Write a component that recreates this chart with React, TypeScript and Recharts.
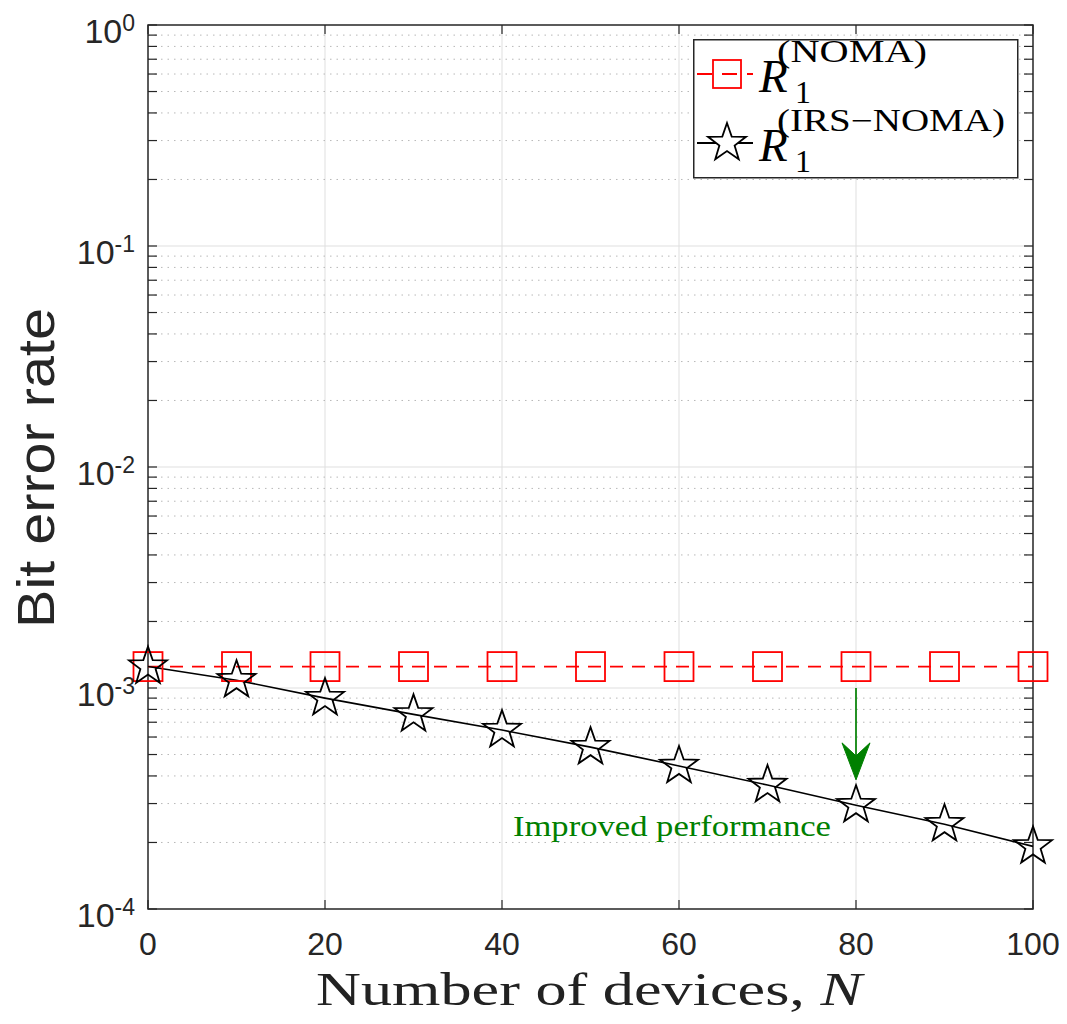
import React from "react";
import {
  LineChart,
  Line,
  XAxis,
  YAxis,
  CartesianGrid,
  ReferenceArea,
  ReferenceLine,
  ReferenceDot,
  Legend,
} from "recharts";

// ─── Data ─────────────────────────────────────────────────────
const N_VALUES = [0, 10, 20, 30, 40, 50, 60, 70, 80, 90, 100];
const NOMA_BER = [
  1.25e-3, 1.25e-3, 1.25e-3, 1.25e-3, 1.25e-3, 1.25e-3, 1.25e-3, 1.25e-3, 1.25e-3, 1.25e-3, 1.25e-3,
];
const IRS_NOMA_BER = [
  1.25e-3, 1.085e-3, 9.0e-4, 7.6e-4, 6.45e-4, 5.4e-4, 4.44e-4, 3.64e-4, 2.95e-4, 2.42e-4, 1.92e-4,
];

const X_TICKS = [0, 20, 40, 60, 80, 100];
const X_GRID = [20, 40, 60, 80];
const DECADES = [1e-4, 1e-3, 1e-2, 1e-1, 1];
const MINOR_MULT = [2, 3, 4, 5, 6, 7, 8, 9];
const MINORS = DECADES.slice(0, -1).flatMap((d) => MINOR_MULT.map((m) => m * d));
const Y_TICKS = [...DECADES, ...MINORS].sort((a, b) => a - b);

const data = N_VALUES.map((n, i) => ({ n, noma: NOMA_BER[i], irs: IRS_NOMA_BER[i] }));

// ─── Layout ───────────────────────────────────────────────────
const W = 1059;
const H = 1010;
const PLOT = { left: 140, right: 1025, top: 17, bottom: 901 };
const AXIS = "#262626";
const TICK_LEN = 9;
const SANS = "'Liberation Sans', Arial, Helvetica, sans-serif";
const SERIF = "'Liberation Serif', 'Times New Roman', serif";

const isDecade = (v: number) => Math.abs(Math.log10(v) - Math.round(Math.log10(v))) < 1e-6;

const starPath = (cx: number, cy: number, R: number, r: number) => {
  let d = "";
  for (let k = 0; k < 10; k++) {
    const a = -Math.PI / 2 + (k * Math.PI) / 5;
    const rad = k % 2 === 0 ? R : r;
    d += (k ? "L" : "M") + (cx + rad * Math.cos(a)).toFixed(2) + "," + (cy + rad * Math.sin(a)).toFixed(2);
  }
  return d + "Z";
};

const SquareDot = (props: any) => {
  const { cx, cy, index } = props;
  if (cx == null || cy == null) return <g key={`sq-${index}`} />;
  return (
    <rect
      key={`sq-${index}`}
      x={cx - 14.5}
      y={cy - 14.5}
      width={29}
      height={29}
      fill="none"
      stroke="#ff0000"
      strokeWidth={1.8}
    />
  );
};

const StarDot = (props: any) => {
  const { cx, cy, index } = props;
  if (cx == null || cy == null) return <g key={`st-${index}`} />;
  return <path key={`st-${index}`} d={starPath(cx, cy, 20, 8)} fill="none" stroke="#000" strokeWidth={1.8} />;
};

const XTick = (props: any) => {
  const { x, payload } = props;
  return (
    <g>
      <line x1={x} x2={x} y1={PLOT.bottom} y2={PLOT.bottom - TICK_LEN} stroke={AXIS} strokeWidth={1.2} />
      <line x1={x} x2={x} y1={PLOT.top} y2={PLOT.top + TICK_LEN} stroke={AXIS} strokeWidth={1.2} />
      <text x={x} y={947} textAnchor="middle" fontSize={32} fontFamily={SANS} fill={AXIS}>
        {payload.value}
      </text>
    </g>
  );
};

const YTick = (props: any) => {
  const { y, payload } = props;
  const v = payload.value as number;
  const major = isDecade(v);
  return (
    <g>
      <line x1={PLOT.left} x2={PLOT.left + TICK_LEN} y1={y} y2={y} stroke={AXIS} strokeWidth={1.2} />
      <line x1={PLOT.right} x2={PLOT.right - TICK_LEN} y1={y} y2={y} stroke={AXIS} strokeWidth={1.2} />
      {major && (
        <text x={127} y={y + 18} textAnchor="end" fontFamily={SANS} fill={AXIS}>
          <tspan fontSize={34}>10</tspan>
          <tspan fontSize={23} dy={-12}>
            {Math.round(Math.log10(v))}
          </tspan>
        </text>
      )}
    </g>
  );
};

const ArrowHead = (props: any) => {
  const { cx, cy } = props;
  return (
    <polygon
      points={`${cx},${cy} ${cx - 14},${cy - 37} ${cx},${cy - 24} ${cx + 14},${cy - 37}`}
      fill="#008000"
      stroke="#008000"
      strokeWidth={1}
    />
  );
};

const Annotation = (props: any) => {
  const { cx, cy } = props;
  return (
    <text
      x={cx}
      y={cy + 11}
      textAnchor="middle"
      fontFamily={SERIF}
      fontSize={30}
      fill="#008000"
      textLength={318}
      lengthAdjust="spacingAndGlyphs"
    >
      Improved performance
    </text>
  );
};

// legend box: MATLAB-style with LaTeX labels
const LegendBox = () => (
  <svg width={326} height={140} style={{ display: "block", overflow: "visible" }}>
    <rect x={0.75} y={0.75} width={324} height={138} fill="#fff" stroke={AXIS} strokeWidth={1.5} />
    {/* entry 1 */}
    <line x1={4} x2={60} y1={35} y2={35} stroke="#ff0000" strokeWidth={1.8} strokeDasharray="15 10" />
    <rect x={20} y={21} width={28} height={28} fill="none" stroke="#ff0000" strokeWidth={1.8} />
    <text x={66} y={53} fontFamily={SERIF} fontSize={47} fontStyle="italic" fill="#000">
      R
    </text>
    <text x={102} y={64} fontFamily={SERIF} fontSize={32} fill="#000">
      1
    </text>
    <text x={84} y={23} fontFamily={SERIF} fontSize={31} fill="#000" textLength={150} lengthAdjust="spacingAndGlyphs">
      (NOMA)
    </text>
    {/* entry 2 */}
    <line x1={4} x2={60} y1={104} y2={104} stroke="#000" strokeWidth={1.8} />
    <path d={starPath(34, 104, 20, 8)} fill="#fff" stroke="#000" strokeWidth={1.8} />
    <text x={66} y={122} fontFamily={SERIF} fontSize={47} fontStyle="italic" fill="#000">
      R
    </text>
    <text x={102} y={133} fontFamily={SERIF} fontSize={32} fill="#000">
      1
    </text>
    <text x={84} y={92} fontFamily={SERIF} fontSize={31} fill="#000" textLength={228} lengthAdjust="spacingAndGlyphs">
      (IRS−NOMA)
    </text>
  </svg>
);

export default function App() {
  return (
    <div style={{ position: "relative", width: W, height: H, background: "#fff" }}>
      <LineChart
        width={W}
        height={H}
        data={data}
        margin={{ top: PLOT.top, right: W - PLOT.right, bottom: H - PLOT.bottom - 60, left: 0 }}
      >
        {/* major grid */}
        <CartesianGrid
          horizontalValues={[1e-3, 1e-2, 1e-1]}
          verticalValues={X_GRID}
          stroke="#dfdfdf"
          strokeWidth={1}
        />
        {/* minor dotted grid */}
        <CartesianGrid
          horizontalValues={MINORS}
          vertical={false}
          stroke="#b8b8b8"
          strokeWidth={1}
          strokeDasharray="1.5 5"
        />
        <XAxis
          dataKey="n"
          type="number"
          domain={[0, 100]}
          ticks={X_TICKS}
          interval={0}
          height={60}
          axisLine={false}
          tickLine={false}
          tick={<XTick />}
        />
        <YAxis
          type="number"
          scale="log"
          domain={[1e-4, 1]}
          allowDataOverflow
          ticks={Y_TICKS}
          interval={0}
          width={PLOT.left}
          axisLine={false}
          tickLine={false}
          tick={<YTick />}
        />
        <ReferenceArea x1={0} x2={100} y1={1e-4} y2={1} fill="none" stroke={AXIS} strokeWidth={1.5} />
        <ReferenceLine
          segment={[
            { x: 80, y: 1e-3 },
            { x: 80, y: 4.9e-4 },
          ]}
          stroke="#008000"
          strokeWidth={1.7}
        />
        <ReferenceDot x={80} y={3.84e-4} shape={<ArrowHead />} />
        <ReferenceDot x={59.2} y={2.4e-4} shape={<Annotation />} />
        <Line
          dataKey="noma"
          name="NOMA"
          stroke="#ff0000"
          strokeWidth={1.8}
          strokeDasharray="13 9"
          dot={SquareDot}
          activeDot={false}
          isAnimationActive={false}
        />
        <Line
          dataKey="irs"
          name="IRS-NOMA"
          stroke="#000"
          strokeWidth={1.6}
          dot={StarDot}
          activeDot={false}
          isAnimationActive={false}
        />
        <Legend
          verticalAlign="middle"
          align="center"
          content={<LegendBox />}
          wrapperStyle={{ position: "absolute", left: 685, top: 31, width: 326, height: 140 }}
        />
      </LineChart>
      {/* axis titles */}
      <svg
        width={W}
        height={H}
        style={{ position: "absolute", left: 0, top: 0, pointerEvents: "none" }}
      >
        <text
          transform="translate(46,460) rotate(-90)"
          textAnchor="middle"
          fontFamily={SANS}
          fontSize={52}
          fill={AXIS}
          textLength={320}
          lengthAdjust="spacingAndGlyphs"
        >
          Bit error rate
        </text>
        <text
          x={581}
          y={997}
          textAnchor="middle"
          fontFamily={SERIF}
          fontSize={46}
          fill="#222"
          textLength={546}
          lengthAdjust="spacingAndGlyphs"
        >
          Number of devices, <tspan fontStyle="italic">N</tspan>
        </text>
      </svg>
    </div>
  );
}
